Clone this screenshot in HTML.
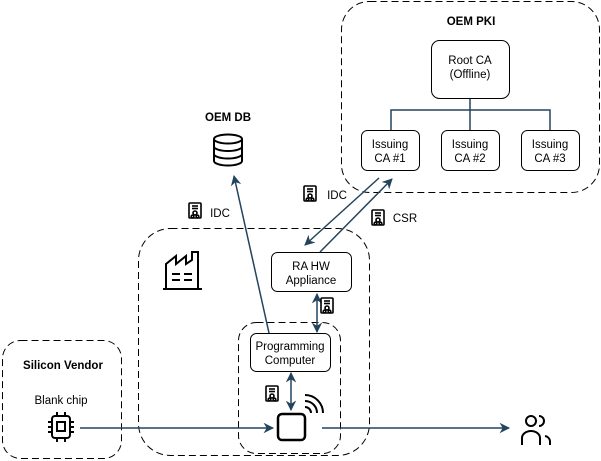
<!DOCTYPE html>
<html><head><meta charset="utf-8"><style>
html,body{margin:0;padding:0;background:#fff;}
svg{display:block;font-family:"Liberation Sans",Arial,sans-serif;}
</style></head><body>
<svg width="601" height="461" viewBox="0 0 601 461" xmlns="http://www.w3.org/2000/svg">
<defs>
<marker id="a" viewBox="0 0 10 10" refX="9" refY="5" markerWidth="7" markerHeight="7" orient="auto-start-reverse"><path d="M0,0 L10,5 L0,10 L3,5 Z" fill="#23445d"/></marker>
<g id="cert" fill="none" stroke="#000" stroke-width="1.6">
<rect x="0" y="0" width="12" height="15" rx="1"/>
<line x1="3" y1="3" x2="9" y2="3"/><line x1="3" y1="5.5" x2="9" y2="5.5"/>
<circle cx="6" cy="10" r="2"/><circle cx="3.5" cy="13.5" r="1.3"/><circle cx="8.5" cy="13.5" r="1.3"/>
</g>
</defs>
<g fill="none" stroke="#000" stroke-dasharray="7 4" stroke-width="1">
<rect x="341.5" y="1.5" width="258" height="191" rx="28"/>
<rect x="138.5" y="228.5" width="231" height="227" rx="32"/>
<rect x="238.5" y="322.5" width="102" height="131" rx="18"/>
<rect x="2.5" y="340.5" width="119" height="118" rx="18"/>
</g>
<g fill="#fff" stroke="#000" stroke-width="1">
<rect x="431.5" y="40.5" width="78" height="58" rx="8"/>
<rect x="361.5" y="130.5" width="58" height="40" rx="6"/>
<rect x="441.5" y="130.5" width="58" height="40" rx="6"/>
<rect x="521.5" y="130.5" width="58" height="40" rx="6"/>
<rect x="271.5" y="252.5" width="80" height="39" rx="6"/>
<rect x="250.5" y="333.5" width="80" height="38" rx="6"/>
</g>
<g fill="none" stroke="#23445d" stroke-width="1.5">
<path d="M470,99 V110 M391,130 V110 H550 V130 M470,110 V130"/>
<line x1="269" y1="333" x2="234" y2="176" marker-end="url(#a)"/>
<line x1="379" y1="178" x2="305" y2="245" marker-end="url(#a)"/>
<line x1="320" y1="252" x2="392" y2="179" marker-end="url(#a)"/>
<line x1="317" y1="294" x2="317" y2="332" marker-start="url(#a)" marker-end="url(#a)"/>
<line x1="291" y1="373" x2="291" y2="410" marker-start="url(#a)" marker-end="url(#a)"/>
<line x1="80" y1="428" x2="273" y2="428" marker-end="url(#a)"/>
<line x1="322" y1="428" x2="509" y2="428" marker-end="url(#a)"/>
</g>
<g font-size="11.5" fill="#000" text-anchor="middle">
<text x="471" y="25" font-weight="bold">OEM PKI</text>
<text x="470" y="64">Root CA</text><text x="470" y="78">(Offline)</text>
<text x="390" y="148">Issuing</text><text x="390" y="162">CA #1</text>
<text x="470" y="148">Issuing</text><text x="470" y="162">CA #2</text>
<text x="550" y="148">Issuing</text><text x="550" y="162">CA #3</text>
<text x="228" y="121" font-weight="bold">OEM DB</text>
<text x="311" y="270">RA HW</text><text x="311" y="284">Appliance</text>
<text x="290" y="350">Programming</text><text x="290" y="364">Computer</text>
<text x="63" y="369" font-weight="bold">Silicon Vendor</text>
<text x="61" y="404">Blank chip</text>
<text x="220" y="217">IDC</text>
<text x="337" y="199">IDC</text>
<text x="405" y="222">CSR</text>
</g>
<use href="#cert" x="189" y="203"/>
<use href="#cert" x="304" y="186"/>
<use href="#cert" x="372" y="210"/>
<use href="#cert" x="321" y="298"/>
<use href="#cert" x="266" y="386"/>
<g fill="none" stroke="#000" stroke-width="2">
<ellipse cx="228" cy="139" rx="14" ry="4.5"/>
<path d="M214,139 V161 A14,4.5 0 0 0 242,161 V139 M214,146.5 A14,4.5 0 0 0 242,146.5 M214,154 A14,4.5 0 0 0 242,154"/>
</g>
<g fill="none" stroke="#000" stroke-width="2">
<path d="M163,289 H202 M166,289 V264 L176,256 V264 L186,256 V264 L192,260 V252 H198 V289"/>
<path d="M172,274 H180 M184,274 H192 M172,280 H180 M184,280 H192"/>
</g>
<g fill="none" stroke="#000" stroke-width="2">
<rect x="52" y="416" width="18" height="22" rx="3"/>
<rect x="57" y="422" width="8" height="9"/>
<path d="M48,422 h4 M48,427 h4 M48,432 h4 M70,422 h4 M70,427 h4 M70,432 h4 M57,412 v4 M65,412 v4 M57,438 v4 M65,438 v4"/>
</g>
<rect x="278" y="414" width="27" height="26" rx="4" fill="none" stroke="#000" stroke-width="2.5"/>
<g fill="none" stroke="#000" stroke-width="2">
<path d="M305,407 A6,6 0 0 1 311,413"/>
<path d="M305,401 A12,12 0 0 1 317,413"/>
<path d="M305,395 A18,18 0 0 1 323,413"/>
</g>
<g fill="none" stroke="#000" stroke-width="2">
<circle cx="531" cy="421" r="5"/>
<path d="M522,445 V438 A9,7 0 0 1 540,438 V445"/>
<path d="M539,416 A5,5 0 0 1 539,426 M545,436 A6,6 0 0 1 550,441 V445"/>
</g>
</svg>
</body></html>
